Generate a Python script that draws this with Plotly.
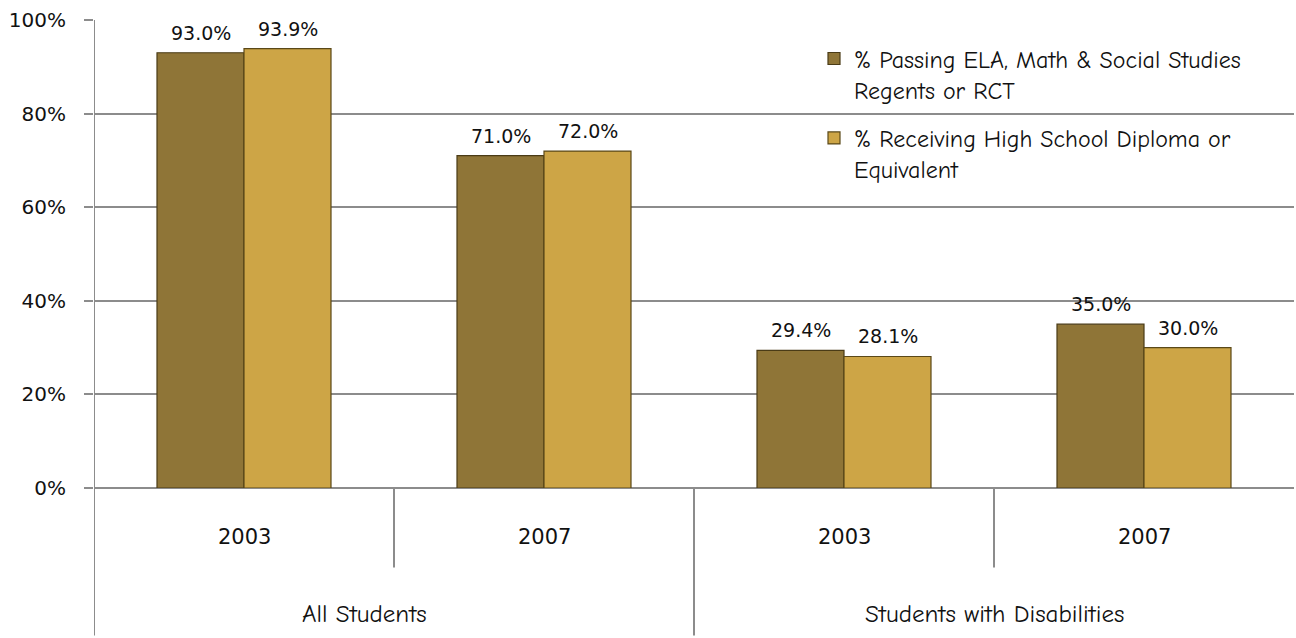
import plotly.graph_objects as go

# Categories
groups = ["All Students", "Students with Disabilities"]
years = ["2003", "2007", "2003", "2007"]
x_pos = [0, 1, 2, 3]

# Series values (percent)
passing = [93.0, 71.0, 29.4, 35.0]
diploma = [93.9, 72.0, 28.1, 30.0]

series_names = [
    "% Passing ELA, Math & Social Studies<br>Regents or RCT",
    "% Receiving High School Diploma or<br>Equivalent",
]

# Y-axis ticks
y_ticks = [0, 20, 40, 60, 80, 100]
y_tick_text = ["0%", "20%", "40%", "60%", "80%", "100%"]

DARK = "#8F7537"
LIGHT = "#CDA546"
GRID = "#8C8C8C"
NUM_FONT = "DejaVu Sans, Verdana, sans-serif"
TXT_FONT = "Comic Sans MS, Comic Neue, Open Sans, sans-serif"

BAR_WIDTH = 0.29

fig = go.Figure()
fig.add_trace(go.Bar(
    x=x_pos, y=passing, name=series_names[0], width=BAR_WIDTH,
    offset=-BAR_WIDTH, legendgroup="a",
    marker=dict(color=DARK, line=dict(color="#4A3B16", width=1.2)),
))
fig.add_trace(go.Bar(
    x=x_pos, y=diploma, name=series_names[1], width=BAR_WIDTH,
    offset=0, legendgroup="b",
    marker=dict(color=LIGHT, line=dict(color="#5A4818", width=1.2)),
))

annotations = []
# value labels above each bar
for xi, v in zip(x_pos, passing):
    annotations.append(dict(x=xi - BAR_WIDTH / 2, y=v, text=f"{v:.1f}%", showarrow=False,
                            yanchor="bottom", yshift=7,
                            font=dict(family=NUM_FONT, size=19, color="#111")))
for xi, v in zip(x_pos, diploma):
    annotations.append(dict(x=xi + BAR_WIDTH / 2, y=v, text=f"{v:.1f}%", showarrow=False,
                            yanchor="bottom", yshift=7,
                            font=dict(family=NUM_FONT, size=19, color="#111")))

# year labels (inner category level)
for xi, yr in zip(x_pos, years):
    annotations.append(dict(x=xi, y=-0.105, yref="paper", text=yr, showarrow=False,
                            yanchor="middle",
                            font=dict(family=NUM_FONT, size=21, color="#111")))

# group labels (outer category level)
annotations.append(dict(x=0.5, y=-0.268, yref="paper", text=groups[0], showarrow=False,
                        xshift=-30, yanchor="middle",
                        font=dict(family=TXT_FONT, size=25, color="#111")))
annotations.append(dict(x=2.5, y=-0.268, yref="paper", text=groups[1], showarrow=False,
                        yanchor="middle",
                        font=dict(family=TXT_FONT, size=25, color="#111")))

line_style = dict(color=GRID, width=2)
shapes = [
    # left axis line extended through the category label area
    dict(type="line", xref="x", yref="paper", x0=-0.5, x1=-0.5, y0=1, y1=-0.315, line=line_style),
    # divider between outer groups
    dict(type="line", xref="x", yref="paper", x0=1.5, x1=1.5, y0=0, y1=-0.315, line=line_style),
    # dividers between inner categories
    dict(type="line", xref="x", yref="paper", x0=0.5, x1=0.5, y0=0, y1=-0.17, line=line_style),
    dict(type="line", xref="x", yref="paper", x0=2.5, x1=2.5, y0=0, y1=-0.17, line=line_style),
]

fig.update_layout(
    width=1296, height=638,
    margin=dict(l=94, r=2, t=20, b=150),
    paper_bgcolor="white", plot_bgcolor="white",
    barmode="overlay",
    showlegend=True,
    legend=dict(
        x=0.6, y=0.965, xanchor="left", yanchor="top",
        bgcolor="rgba(0,0,0,0)",
        font=dict(family=TXT_FONT, size=24, color="#111"),
        tracegroupgap=14, traceorder="grouped",
        itemwidth=30, valign="top",
    ),
    xaxis=dict(
        range=[-0.5, 3.5], showticklabels=False, showgrid=False, zeroline=False,
        showline=False, ticks="",
    ),
    yaxis=dict(
        range=[0, 100], tickvals=y_ticks, ticktext=y_tick_text,
        showgrid=True, gridcolor=GRID, gridwidth=2,
        zeroline=True, zerolinecolor=GRID, zerolinewidth=2,
        showline=False,
        ticks="outside", ticklen=9, tickcolor=GRID, tickwidth=2,
        ticklabelstandoff=14,
        tickfont=dict(family=NUM_FONT, size=20, color="#111"),
    ),
    annotations=annotations,
    shapes=shapes,
)

fig.write_html("out.html")
